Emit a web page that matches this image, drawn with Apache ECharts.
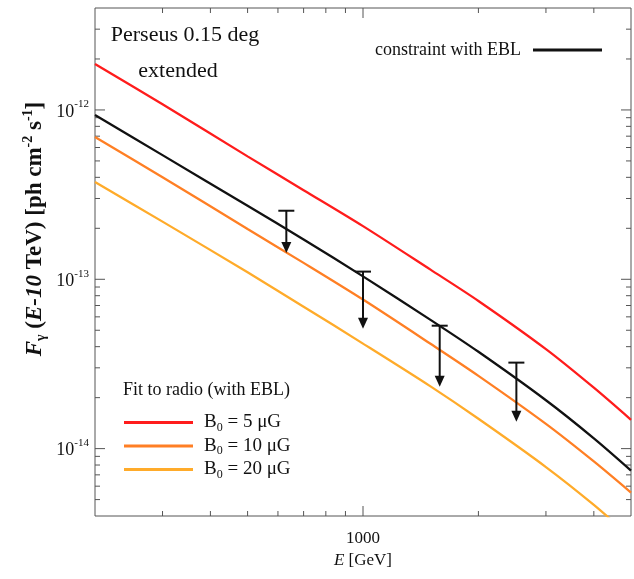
<!DOCTYPE html>
<html>
<head>
<meta charset="utf-8">
<script src="https://cdn.jsdelivr.net/npm/echarts@6/dist/echarts.min.js"></script>
<style>
  html, body { margin: 0; padding: 0; background: #ffffff; }
  #chart { width: 634px; height: 579px; }
</style>
</head>
<body>
<div id="chart"></div>
<script>
// Model curves: integrated flux above E (E-10 TeV) for each field strength
const energies = [200, 300, 500, 700, 1000, 1500, 2000, 3000, 4000, 5000];
const fluxB5   = [1.87e-12, 1.08e-12, 5.32e-13, 3.36e-13, 2.06e-13, 1.14e-13, 7.45e-14, 3.87e-14, 2.29e-14, 1.48e-14];
const fluxB10  = [6.93e-13, 4.01e-13, 1.98e-13, 1.25e-13, 7.59e-14, 4.16e-14, 2.69e-14, 1.40e-14, 8.40e-15, 5.50e-15];
const fluxB20  = [3.76e-13, 2.19e-13, 1.10e-13, 6.89e-14, 4.17e-14, 2.33e-14, 1.50e-14, 7.78e-15, 4.65e-15, 2.99e-15];
const fluxEBL  = [9.34e-13, 5.41e-13, 2.72e-13, 1.72e-13, 1.04e-13, 5.76e-14, 3.73e-14, 1.93e-14, 1.15e-14, 7.42e-15];

// Upper limits: energy, limit value, and where the arrow points to
const limitEnergies  = [631, 1000, 1585, 2512];
const limitValues    = [2.54e-13, 1.11e-13, 5.32e-14, 3.22e-14];
const limitArrowEnds = [1.43e-13, 5.10e-14, 2.32e-14, 1.44e-14];

// Series names
const nameEBL = 'constraint with EBL';
const nameB5  = 'B0 = 5 μG';
const nameB10 = 'B0 = 10 μG';
const nameB20 = 'B0 = 20 μG';

// Axis ranges and tick positions
const xRange = [200, 5000];
const yRange = [4e-15, 4e-12];
const xMajorTicks = [1000];
const xMinorTicks = [300, 400, 500, 600, 700, 800, 900, 2000, 3000, 4000];
const yMajorTicks = [1e-14, 1e-13, 1e-12];
const yMinorTicks = [5e-15, 6e-15, 7e-15, 8e-15, 9e-15,
                     2e-14, 3e-14, 4e-14, 5e-14, 6e-14, 7e-14, 8e-14, 9e-14,
                     2e-13, 3e-13, 4e-13, 5e-13, 6e-13, 7e-13, 8e-13, 9e-13,
                     2e-12, 3e-12];

const FONT = '"Liberation Serif", "Times New Roman", serif';
const AXIS_COLOR = '#555555';
const INK = '#111111';

const chart = echarts.init(document.getElementById('chart'), null, { renderer: 'canvas' });

function pairs(xs, ys) { return xs.map((x, i) => [x, ys[i]]); }
function isDecade(v) {
  const l = Math.log10(v);
  return Math.abs(l - Math.round(l)) < 1e-6;
}

// Tick marks drawn inward on all four sides of the frame
const tickData = [];
xMajorTicks.forEach(v => tickData.push([v, yRange[0], 0, 1]));
xMinorTicks.forEach(v => tickData.push([v, yRange[0], 0, 0]));
yMajorTicks.forEach(v => tickData.push([xRange[0], v, 1, 1]));
yMinorTicks.forEach(v => tickData.push([xRange[0], v, 1, 0]));

function renderTick(params, api) {
  const kind = api.value(2);
  const len = api.value(3) ? 10 : 5;
  const style = { stroke: AXIS_COLOR, lineWidth: 1 };
  if (kind === 0) {
    const x = api.value(0);
    const b = api.coord([x, yRange[0]]);
    const t = api.coord([x, yRange[1]]);
    return { type: 'group', children: [
      { type: 'line', shape: { x1: b[0], y1: b[1], x2: b[0], y2: b[1] - len }, style },
      { type: 'line', shape: { x1: t[0], y1: t[1], x2: t[0], y2: t[1] + len }, style }
    ]};
  }
  const y = api.value(1);
  const l = api.coord([xRange[0], y]);
  const r = api.coord([xRange[1], y]);
  return { type: 'group', children: [
    { type: 'line', shape: { x1: l[0], y1: l[1], x2: l[0] + len, y2: l[1] }, style },
    { type: 'line', shape: { x1: r[0], y1: r[1], x2: r[0] - len, y2: r[1] }, style }
  ]};
}

// Upper-limit marker: horizontal cap, stem and a filled downward arrowhead
function renderLimit(params, api) {
  const cap = api.coord([api.value(0), api.value(1)]);
  const tip = api.coord([api.value(0), api.value(2)]);
  const halfCap = 8, headLen = 11, headHalf = 5;
  const st = { stroke: INK, lineWidth: 2 };
  return { type: 'group', children: [
    { type: 'line', shape: { x1: cap[0] - halfCap, y1: cap[1], x2: cap[0] + halfCap, y2: cap[1] }, style: st },
    { type: 'line', shape: { x1: cap[0], y1: cap[1], x2: cap[0], y2: tip[1] - headLen + 1 }, style: st },
    { type: 'polygon', shape: { points: [[tip[0] - headHalf, tip[1] - headLen], [tip[0] + headHalf, tip[1] - headLen], [tip[0], tip[1]]] },
      style: { fill: INK } }
  ]};
}

function curve(name, ys, color, z) {
  return {
    name, type: 'line', data: pairs(energies, ys),
    showSymbol: false, symbol: 'none', smooth: 0.3, z,
    lineStyle: { color, width: 2.3 }, itemStyle: { color },
    emphasis: { disabled: true }, silent: true
  };
}

const titleStyle = { fontFamily: FONT, fontSize: 22, fontWeight: 'normal', color: INK };

const option = {
  animation: false,
  backgroundColor: '#ffffff',
  textStyle: { fontFamily: FONT },
  grid: { left: 95, top: 8, right: 3, bottom: 63, show: true, borderColor: AXIS_COLOR, borderWidth: 1, containLabel: false },
  title: [
    { text: 'Perseus 0.15 deg', left: 185, top: 24, padding: 0, textAlign: 'center', textStyle: titleStyle },
    { text: 'extended', left: 178, top: 60, padding: 0, textAlign: 'center', textStyle: titleStyle }
  ],
  legend: [
    {
      data: [nameEBL], right: 32, top: 41, padding: 0,
      align: 'right', icon: 'rect', itemWidth: 69, itemHeight: 3,
      selectedMode: false,
      formatter: n => '{t|' + n + '}{g|}',
      textStyle: { fontFamily: FONT, fontSize: 18, color: INK,
        rich: { t: { fontFamily: FONT, fontSize: 18, color: INK }, g: { width: 7 } } }
    },
    {
      data: [nameB5, nameB10, nameB20], left: 124, top: 413, padding: 0,
      orient: 'vertical', icon: 'rect', itemWidth: 69, itemHeight: 3, itemGap: 3,
      selectedMode: false,
      formatter: n => '{g|}{t|B}{s|0}{t|' + n.slice(2) + '}',
      textStyle: { fontFamily: FONT, fontSize: 19, color: INK,
        rich: {
          g: { width: 6 },
          t: { fontFamily: FONT, fontSize: 19, color: INK, lineHeight: 22 },
          s: { fontFamily: FONT, fontSize: 12, color: INK, lineHeight: 12, verticalAlign: 'bottom' }
        } }
    }
  ],
  graphic: [
    {
      type: 'text', left: 123, top: 381,
      style: { text: 'Fit to radio (with EBL)', fontFamily: FONT, fontSize: 18, fill: INK }
    },
    {
      type: 'text', x: 35, y: 229, rotation: Math.PI / 2,
      style: {
        text: '{it|F}{sub|γ} ({it|E-10} TeV) [ph cm{sup|-2} s{sup|-1}]',
        fontFamily: FONT, fontSize: 23, fontWeight: 'bold', fill: INK,
        align: 'center', verticalAlign: 'middle',
        rich: {
          it: { fontFamily: FONT, fontSize: 23, fontWeight: 'bold', fontStyle: 'italic', fill: INK, lineHeight: 27 },
          sub: { fontFamily: FONT, fontSize: 14, fontWeight: 'bold', fill: INK, lineHeight: 14, verticalAlign: 'bottom' },
          sup: { fontFamily: FONT, fontSize: 14, fontWeight: 'bold', fill: INK, lineHeight: 14, verticalAlign: 'top' }
        }
      }
    }
  ],
  xAxis: {
    type: 'log', logBase: 10, min: xRange[0], max: xRange[1],
    name: '{it|E} [GeV]', nameLocation: 'middle', nameGap: 35,
    nameTextStyle: { fontFamily: FONT, fontSize: 17, color: INK,
      rich: { it: { fontFamily: FONT, fontSize: 17, fontStyle: 'italic', color: INK } } },
    axisLine: { show: false }, axisTick: { show: false }, splitLine: { show: false },
    axisLabel: {
      margin: 14, fontFamily: FONT, fontSize: 17, color: INK,
      formatter: v => isDecade(v) ? String(Math.round(v)) : ''
    }
  },
  yAxis: {
    type: 'log', logBase: 10, min: yRange[0], max: yRange[1],
    axisLine: { show: false }, axisTick: { show: false }, splitLine: { show: false },
    axisLabel: {
      margin: 6, color: INK,
      formatter: v => isDecade(v) ? '{b|10}{sup|' + Math.round(Math.log10(v)) + '}' : '',
      rich: {
        b: { fontFamily: FONT, fontSize: 18, color: INK, lineHeight: 22, verticalAlign: 'bottom' },
        sup: { fontFamily: FONT, fontSize: 11, color: INK, lineHeight: 11, verticalAlign: 'top' }
      }
    }
  },
  series: [
    {
      type: 'custom', renderItem: renderTick, data: tickData,
      encode: { x: 0, y: 1 }, silent: true, z: 1, clip: false
    },
    curve(nameB20, fluxB20, '#ffab2a', 2),
    curve(nameB10, fluxB10, '#ff7f24', 3),
    curve(nameB5, fluxB5, '#ff1c1c', 4),
    curve(nameEBL, fluxEBL, '#111111', 5),
    {
      type: 'custom', renderItem: renderLimit,
      data: limitEnergies.map((e, i) => [e, limitValues[i], limitArrowEnds[i]]),
      encode: { x: 0, y: [1, 2] }, silent: true, z: 6, clip: false
    }
  ]
};

chart.setOption(option);
</script>
</body>
</html>
